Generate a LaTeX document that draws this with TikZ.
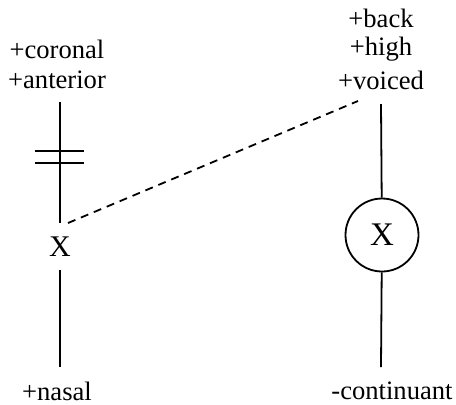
\documentclass[tikz,border=0pt]{standalone}
\usepackage{fontspec}
\setmainfont{Liberation Serif}
\begin{document}
\begin{tikzpicture}[x=0.5pt, y=-0.5pt, line width=0.9pt,
  feat/.style={inner sep=1pt, font=\fontsize{13.3}{16}\selectfont},
  seg/.style={inner sep=1pt, font=\fontsize{15}{18}\selectfont},
  slot/.style={circle, draw, minimum size=36.5pt, inner sep=0pt, font=\fontsize{16.5}{19}\selectfont}]
    \useasboundingbox (0,0) rectangle (456,404);

    % left column
    \node [feat] (cor) at (57, 49) {+coronal};
    \node [feat] (ant) at (57, 80) {+anterior};
    \node [seg] (x1) at (60, 247) {X};
    \node [feat] (nas) at (57, 391) {+nasal};

    \coordinate (a1) at (60, 102);
    \coordinate (a2) at (60, 223);
    \coordinate (a3) at (60, 270);
    \coordinate (a4) at (60, 367);

    % right column
    \node [feat] (bk) at (381, 18) {+back};
    \node [feat] (hi) at (381, 49) {+high};
    \node [feat] (vo) at (381, 80) {+voiced};
    \node [slot] (x2) at (382, 235) {X};
    \node [feat] (cont) at (392, 391) {-continuant};

    \coordinate (b1) at (381, 104);
    \coordinate (b2) at (381, 367);

    % delinking bars
    \coordinate (d1) at (35, 151);
    \coordinate (d2) at (84, 151);
    \coordinate (d3) at (35, 163);
    \coordinate (d4) at (84, 163);

    % spreading
    \coordinate (s1) at (68, 223);
    \coordinate (s2) at (358, 101);

    \draw (a1) -- (a2);
    \draw (a3) -- (a4);
    \draw (d1) -- (d2);
    \draw (d3) -- (d4);
    \draw (b1) -- (x2);
    \draw (x2) -- (b2);
    \draw [dash pattern=on 4pt off 3pt] (s1) -- (s2);
\end{tikzpicture}
\end{document}
